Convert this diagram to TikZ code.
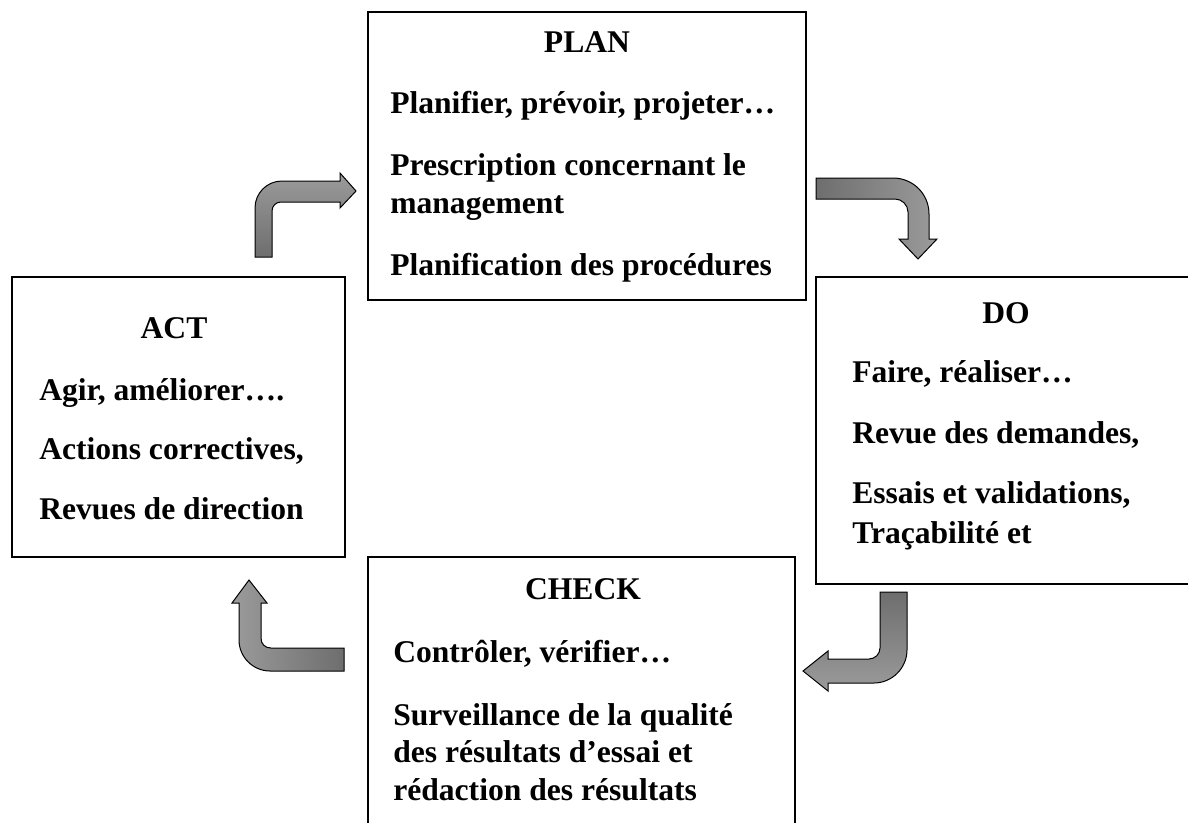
\documentclass[tikz,border=0pt]{standalone}
\usepackage{fontspec}
\setmainfont{Liberation Serif}
\definecolor{arrdark}{RGB}{110,110,110}
\definecolor{arrlight}{RGB}{155,155,155}
\tikzset{
  pdcabox/.style={draw, line width=2pt, fill=none, inner sep=0pt},
  pdcatitle/.style={anchor=base, inner sep=0pt, font=\fontsize{23.7}{28.5}\selectfont\bfseries},
  pdcaline/.style={anchor=base west, inner sep=0pt, font=\fontsize{23.7}{28.5}\selectfont\bfseries},
  bentarrow/.style={draw=black, line width=0.75pt, line join=miter}
}
\begin{document}
\begin{tikzpicture}[x=0.75pt,y=0.75pt,yscale=-1,xscale=1]
\useasboundingbox (0,0) rectangle (1188,822);
\clip (0,0) rectangle (1188,822);
%Shape: Rectangle PLAN
\node[pdcabox, minimum width=328.5pt, minimum height=216pt] (plan) at (587,156) {};
%Shape: Rectangle ACT
\node[pdcabox, minimum width=249.75pt, minimum height=210pt] (act) at (178.5,417) {};
%Shape: Rectangle DO
\node[pdcabox, minimum width=285pt, minimum height=230.25pt] (do) at (1006,430.5) {};
%Shape: Rectangle CHECK
\node[pdcabox, minimum width=320.25pt, minimum height=219.75pt] (check) at (581.5,703.5) {};
%Text PLAN
\node[pdcatitle] (plantitle) at (587,52) {PLAN};
\node[pdcaline] (plan1) at (390,113) {Planifier, prévoir, projeter…};
\node[pdcaline] (plan2) at (390,175) {Prescription concernant le};
\node[pdcaline] (plan3) at (390,213) {management};
\node[pdcaline] (plan4) at (390,275) {Planification des procédures};
%Text ACT
\node[pdcatitle] (acttitle) at (174,338) {ACT};
\node[pdcaline] (act1) at (39,400) {Agir, améliorer….};
\node[pdcaline] (act2) at (39,459) {Actions correctives,};
\node[pdcaline] (act3) at (39,519) {Revues de direction};
%Text DO
\node[pdcatitle] (dotitle) at (1006,323) {DO};
\node[pdcaline] (do1) at (852,382) {Faire, réaliser…};
\node[pdcaline] (do2) at (852,443) {Revue des demandes,};
\node[pdcaline] (do3) at (852,503) {Essais et validations,};
\node[pdcaline] (do4) at (852,543) {Traçabilité et};
%Text CHECK
\node[pdcatitle] (checktitle) at (583,599) {CHECK};
\node[pdcaline] (check1) at (393,662) {Contrôler, vérifier…};
\node[pdcaline] (check2) at (393,725) {Surveillance de la qualité};
\node[pdcaline] (check3) at (393,762) {des résultats d’essai et};
\node[pdcaline] (check4) at (393,800) {rédaction des résultats};
%Shape: Bent Arrow ACT to PLAN
\shade[bentarrow, top color=arrlight, bottom color=arrdark] (255,257) -- (255,208) .. controls (255,193) and (267,181) .. (282,181) -- (340,181) -- (340,173) -- (356,191) -- (340,208) -- (340,202) -- (281,202) .. controls (276,202) and (272,206) .. (272,211) -- (272,257) -- cycle ;
%Shape: Bent Arrow PLAN to DO
\shade[bentarrow, left color=arrdark, right color=arrlight] (816,178) -- (893,178) .. controls (913,178) and (929,194) .. (929,214) -- (929,239) -- (937,239) -- (918,259) -- (899,239) -- (908,239) -- (908,212) .. controls (908,205) and (902,199) .. (895,199) -- (816,199) -- cycle ;
%Shape: Bent Arrow DO to CHECK
\shade[bentarrow, top color=arrdark, bottom color=arrlight] (880,592) -- (907,592) -- (907,650) .. controls (907,668) and (892,683) .. (874,683) -- (828,683) -- (828,691) -- (803,671) -- (828,651) -- (828,659) -- (869,659) .. controls (875,659) and (880,654) .. (880,648) -- cycle ;
%Shape: Bent Arrow CHECK to ACT
\shade[bentarrow, left color=arrlight, right color=arrdark] (344,648) -- (344,671) -- (270,671) .. controls (253,671) and (239,657) .. (239,640) -- (239,603) -- (232,603) -- (249,580) -- (267,603) -- (261,603) -- (261,638) .. controls (261,644) and (265,648) .. (271,648) -- cycle ;
\end{tikzpicture}
\end{document}
